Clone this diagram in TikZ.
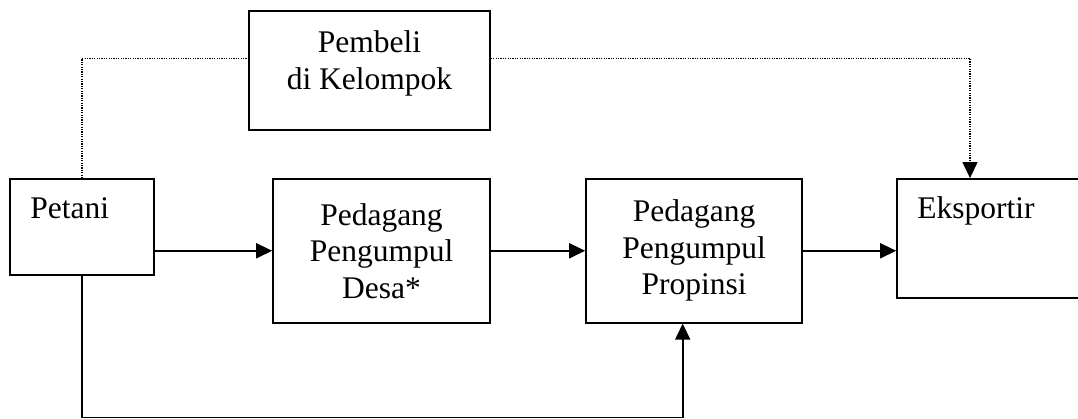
\documentclass[tikz,border=0pt]{standalone}
\usepackage{fontspec}
\setmainfont{Liberation Serif}
\usetikzlibrary{arrows.meta}
\tikzset{
	box/.style={draw, line width=1.6pt, inner sep=0pt},
	arr/.style={line width=1.6pt, -{Triangle[length=16pt,width=15pt]}},
	dots/.style={line width=1.3pt, dash pattern=on 1.2pt off 1.2pt},
}

\begin{document}
\begin{tikzpicture}[x=1pt, y=1pt,
	every node/.style={font=\fontsize{31.5}{36.5}\selectfont},
	every label/.style={inner sep=0pt}]
	\useasboundingbox (0,0) rectangle (1078,419);
	\clip (0,0) rectangle (1078,419);
	\node[box, minimum width=144pt, minimum height=96pt,
		label={[anchor=base west, xshift=21pt, yshift=-40pt]north west:Petani}] (petani) at (82,192) {};
	\node[box, minimum width=241pt, minimum height=119pt,
		label={[align=center, yshift=7pt]center:Pembeli\\di Kelompok}] (pembeli) at (369.5,348.7) {};
	\node[box, align=center, minimum width=217pt, minimum height=144pt] (desa) at (381.5,168.2) {Pedagang\\Pengumpul\\Desa*};
	\node[box, align=center, minimum width=216pt, minimum height=144pt] (propinsi) at (694,168.2) {Pedagang\\Pengumpul\\Propinsi};
	\node[box, minimum width=200pt, minimum height=119pt,
		label={[anchor=base west, xshift=21pt, yshift=-40pt]north west:Eksportir}] (eksportir) at (997,180.6) {};
	\coordinate (bottom) at (682.7,1.6);
	\draw[arr] (petani.east |- desa.west) -- (desa.west);
	\draw[arr] (desa.east) -- (propinsi.west);
	\draw[arr] (propinsi.east) -- (propinsi.east -| eksportir.west);
	\draw[arr] (petani.south) |- (bottom) -- (bottom |- propinsi.south);
	\draw[dots] (petani.north) |- ([yshift=12pt]pembeli.west);
	\draw[arr, dots] ([yshift=12pt]pembeli.east) -| ([xshift=-27pt]eksportir.north);
\end{tikzpicture}
\end{document}
